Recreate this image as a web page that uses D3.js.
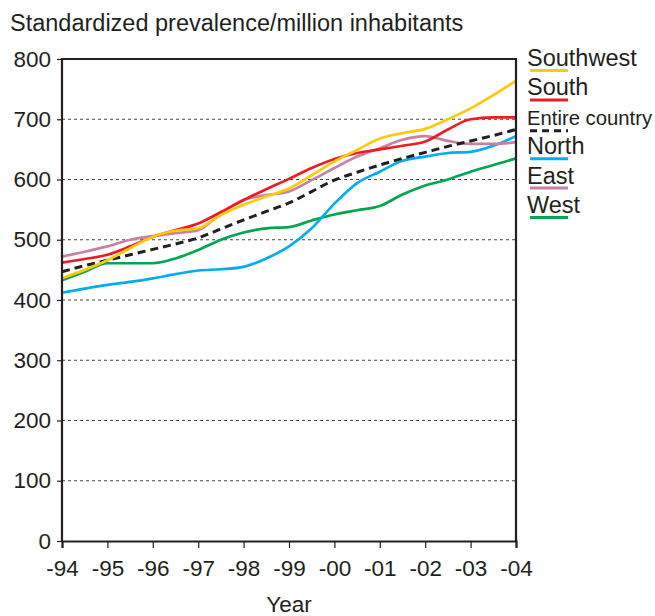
<!DOCTYPE html>
<html>
<head>
<meta charset="utf-8">
<script src="https://cdn.jsdelivr.net/npm/d3@7"></script>
<style>
  body { margin: 0; background: #fff; }
  text { font-family: "Liberation Sans", Arial, sans-serif; fill: #231f20; }
</style>
</head>
<body>
<div id="chart"></div>
<script>
// half-year samples from -94 to -04
const years = d3.range(0, 21).map(i => 1994 + i * 0.5);
const tickYears = d3.range(1994, 2005);
const tickLabels = ["-94","-95","-96","-97","-98","-99","-00","-01","-02","-03","-04"];
const yTicks = [0, 100, 200, 300, 400, 500, 600, 700, 800];

const regions = ["Southwest", "South", "Entire country", "North", "East", "West"];
const southwest = [436,450,466,486,505,515,519,541,558,572,585,607,630,649,668,677,684,700,718,740,764];
const south     = [462,468,475,489,505,516,527,546,566,584,601,619,634,644,650,656,663,683,700,703,703];
const entire    = [447,457,466,475,484,493,503,518,533,547,561,580,599,612,624,635,645,655,664,673,683];
const north     = [412,419,425,430,436,443,449,451,455,469,489,519,560,594,613,631,638,644,646,656,672];
const east      = [472,480,489,500,506,511,516,544,566,574,580,599,619,638,652,666,672,664,659,659,662];
const west      = [433,447,461,461,461,469,483,500,512,519,521,532,542,549,556,575,590,600,613,624,635];
const seriesValues = [southwest, south, entire, north, east, west];

const colors = ["#ffc90e", "#ed1c24", "#231f20", "#00aeef", "#c681a3", "#00a651"];

const width = 655, height = 616;
const svg = d3.select("#chart").append("svg")
  .attr("width", width).attr("height", height);

const x = d3.scaleLinear().domain([1994, 2004]).range([62, 516]);
const y = d3.scaleLinear().domain([0, 800]).range([541, 59]);

// title
svg.append("text")
  .attr("x", 10).attr("y", 31)
  .style("font-size", "23.5px")
  .text("Standardized prevalence/million inhabitants");

// dotted grid
svg.selectAll(".grid")
  .data(yTicks.filter(d => d > 0 && d < 800))
  .join("line")
  .attr("class", "grid")
  .attr("x1", x(1994)).attr("x2", x(2004))
  .attr("y1", d => y(d)).attr("y2", d => y(d))
  .attr("stroke", "#444").attr("stroke-width", 1)
  .attr("stroke-dasharray", "3,3");

// lines
const line = d3.line()
  .x((d, i) => x(years[i]))
  .y(d => y(d))
  .curve(d3.curveMonotoneX);

// draw order so the dashed national line sits in the middle
const order = [5, 3, 4, 2, 1, 0];
order.forEach(k => {
  svg.append("path")
    .datum(seriesValues[k])
    .attr("fill", "none")
    .attr("stroke", colors[k])
    .attr("stroke-width", k === 2 ? 3 : 2.7)
    .attr("stroke-dasharray", k === 2 ? "8,5" : null)
    .attr("d", line);
});

// frame
svg.append("path")
  .attr("d", `M${x(1994)},${y(0)}V${y(800)}H${x(2004)}V${y(0)}`)
  .attr("fill", "none").attr("stroke", "#231f20").attr("stroke-width", 2.2);

// y axis
const yAxis = svg.append("g")
  .attr("transform", `translate(${x(1994)},0)`)
  .call(d3.axisLeft(y).tickValues(yTicks).tickSize(5).tickPadding(6));
yAxis.select(".domain").remove();
yAxis.selectAll(".tick line").attr("stroke", "#231f20").attr("stroke-width", 1.2);
yAxis.selectAll(".tick text")
  .style("font-size", "22.5px").style("font-family", "Liberation Sans, Arial, sans-serif")
  .attr("fill", "#231f20");

// x axis
const xAxis = svg.append("g")
  .attr("transform", `translate(0,${y(0)})`)
  .call(d3.axisBottom(x).tickValues(tickYears).tickFormat((d, i) => tickLabels[i])
    .tickSize(7).tickPadding(12));
xAxis.select(".domain").attr("stroke", "#231f20").attr("stroke-width", 2.2);
xAxis.selectAll(".tick line").attr("stroke", "#231f20").attr("stroke-width", 1.2);
xAxis.selectAll(".tick text")
  .style("font-size", "22.5px").style("font-family", "Liberation Sans, Arial, sans-serif")
  .attr("fill", "#231f20");

svg.append("text")
  .attr("x", 289).attr("y", 612)
  .attr("text-anchor", "middle")
  .style("font-size", "22.5px")
  .text("Year");

// legend
const legend = svg.selectAll(".legend")
  .data(regions)
  .join("g")
  .attr("class", "legend")
  .attr("transform", (d, i) => `translate(527,${66 + i * 29.4})`);

legend.append("text")
  .attr("x", 0).attr("y", 0)
  .style("font-size", d => d === "Entire country" ? "20.3px" : "23.5px")
  .text(d => d);

legend.append("line")
  .attr("x1", 3).attr("x2", 41)
  .attr("y1", (d, i) => i === 2 ? 6 : 4.5).attr("y2", (d, i) => i === 2 ? 6 : 4.5)
  .attr("stroke", (d, i) => colors[i])
  .attr("stroke-width", 3)
  .attr("stroke-dasharray", (d, i) => i === 2 ? "7,5" : null);
</script>
</body>
</html>
